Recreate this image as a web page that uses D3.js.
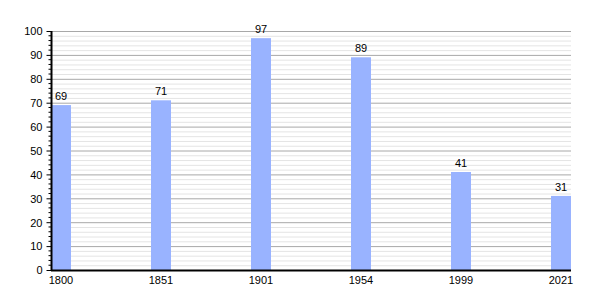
<!DOCTYPE html>
<html><head><meta charset="utf-8">
<script src="https://cdn.jsdelivr.net/npm/d3@7"></script>
<style>body{margin:0;background:#fff}text{font-family:"Liberation Sans",Arial,sans-serif;font-size:11px;fill:#000}</style>
</head><body><svg id="c" width="600" height="300"></svg>
<script>
const years = ["1800","1851","1901","1954","1999","2021"];
const values = [69,71,97,89,41,31];
const yTicks = [0,10,20,30,40,50,60,70,80,90,100];

const svg = d3.select("#c");
const mLeft = 51, mRight = 571, mTop = 31, mBottom = 270;
const x = d3.scaleBand().domain(years).range([mLeft, mLeft + 100*years.length]);
const barW = 20;
const y = d3.scaleLinear().domain([0,100]).range([mBottom, mTop]);

// minor gridlines
const minor = d3.range(2, 101, 2).filter(v => v % 10 !== 0);
svg.append("g").selectAll("line").data(minor).join("line")
  .attr("x1", mLeft).attr("x2", mRight).attr("y1", d=>y(d)+0.5).attr("y2", d=>y(d)+0.5)
  .attr("stroke", "#e4e4e4").attr("stroke-width", 1);
svg.append("g").selectAll("line").data(yTicks.filter(d=>d>0)).join("line")
  .attr("x1", mLeft).attr("x2", mRight).attr("y1", d=>y(d)+0.5).attr("y2", d=>y(d)+0.5)
  .attr("stroke", "#a8a8a8").attr("stroke-width", 1);

// bars
svg.append("g").selectAll("rect").data(values).join("rect")
  .attr("x", (d,i)=>x(years[i])).attr("width", barW)
  .attr("y", d=>y(d)).attr("height", d=>mBottom - y(d))
  .attr("fill", "#99b3ff");
svg.append("g").selectAll("text").data(values).join("text")
  .attr("x", (d,i)=>x(years[i]) + barW/2).attr("y", d=>y(d) - 5)
  .attr("text-anchor", "middle").text(d=>d);

// y axis
const ya = svg.append("g").attr("transform", `translate(${mLeft+0.5},0)`);
ya.call(d3.axisLeft(y).tickValues(yTicks).tickSize(5).tickPadding(4))
  .call(g=>g.select(".domain").remove())
  .call(g=>g.selectAll("text").attr("font-size", 11).attr("font-family", null).attr("fill", "#000").attr("dy","0.35em"))
  .call(g=>g.selectAll("line").attr("stroke", "#000"));
ya.append("g").selectAll("line").data(minor).join("line")
  .attr("x1", -3).attr("x2", 0).attr("y1", d=>y(d)).attr("y2", d=>y(d)).attr("stroke", "#000");
ya.append("line").attr("x1",0).attr("x2",0).attr("y1",mTop).attr("y2",mBottom+1).attr("stroke","#000").attr("stroke-width",2);

// x axis
svg.append("line").attr("x1", mLeft).attr("x2", mRight).attr("y1", mBottom+0.5).attr("y2", mBottom+0.5)
  .attr("stroke", "#000").attr("stroke-width", 2);
svg.append("g").selectAll("text").data(years).join("text")
  .attr("x", d=>x(d) + barW/2).attr("y", mBottom + 14)
  .attr("text-anchor", "middle").text(d=>d);
</script></body></html>
